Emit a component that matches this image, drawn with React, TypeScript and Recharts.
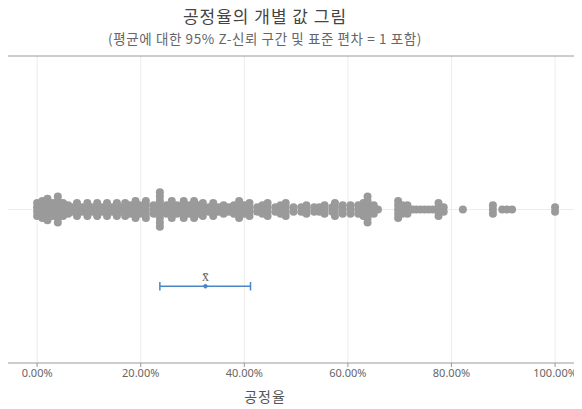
import React from "react";
import {
  ScatterChart,
  Scatter,
  XAxis,
  YAxis,
  CartesianGrid,
  ReferenceLine,
  ReferenceDot,
} from "recharts";

// Individual values (percent) and how many observations sit at each value
const dotValues = [
  0, 1, 2, 3, 4, 5, 6, 7, 7.7, 8.7, 9.7, 10.6, 11.6, 12.5, 13.5, 14.5, 15.4, 16.2, 17, 18,
  19, 19.8, 21, 22.5, 23.7, 25, 26, 27, 28.3, 29.3, 30.3, 31.3, 32, 33.2, 34, 35, 36, 37,
  38, 39, 40, 41, 42.5, 43.5, 44.5, 46, 47, 48, 49.5, 51, 52, 53.5, 54.5, 55.5, 57, 57.5, 59,
  60.5, 62, 63, 63.8, 65, 65.8, 69.7, 70.5, 71.5, 72.5, 73.2, 74, 74.8, 75.6, 76.4, 77.5,
  78.5, 82.2, 88, 89.8, 90.7, 91.7, 100,
];
const dotCounts = [
  4, 5, 6, 4, 7, 4, 3, 2, 4, 2, 4, 2, 4, 2, 4, 2, 4, 2, 4, 3,
  5, 3, 5, 3, 9, 3, 5, 3, 5, 3, 5, 3, 4, 2, 4, 2, 3, 2,
  3, 5, 3, 4, 2, 3, 4, 2, 3, 4, 2, 2, 3, 2, 2, 3, 2, 4, 3,
  3, 3, 4, 7, 3, 1, 5, 3, 3, 1, 1, 1, 1, 1, 1, 4,
  2, 1, 3, 1, 1, 1, 2,
];

const meanValue = 32.5;
const ciLow = 23.7;
const ciHigh = 41.2;

const xTicks = [0, 20, 40, 60, 80, 100];

const title = "공정율의 개별 값 그림";
const subtitle = "(평균에 대한 95% Z-신뢰 구간 및 표준 편차 = 1 포함)";
const xLabel = "공정율";

const ROW_Y = 2;
const CI_Y = 1;
const STACK_STEP = 0.056;
const X_MIN = -6.2;
const X_MAX = 105.2;

const points: { x: number; y: number }[] = [];
dotValues.forEach((v, i) => {
  const n = dotCounts[i];
  for (let k = 0; k < n; k++) {
    points.push({ x: v, y: ROW_Y + (k - (n - 1) / 2) * STACK_STEP });
  }
});

const Dot = (props: any) => {
  const { cx, cy } = props;
  if (cx == null || cy == null) return null;
  return <circle cx={cx} cy={cy} r={4} fill="#9a9a9a" />;
};

const korFont = "'Noto Sans CJK KR', 'Noto Sans', sans-serif";

export default function App() {
  return (
    <div style={{ position: "relative", marginLeft: -8, marginTop: -8, width: 582, height: 409 }}>
      <ScatterChart
        width={582}
        height={409}
        margin={{ top: 56, right: 0, bottom: 0, left: 5 }}
      >
        <CartesianGrid horizontal={false} vertical stroke="#ececec" />
        <XAxis
          type="number"
          dataKey="x"
          domain={[X_MIN, X_MAX]}
          ticks={xTicks}
          allowDataOverflow
          height={46}
          tickSize={4}
          tickLine={{ stroke: "#999" }}
          axisLine={false}
          tick={{ fontSize: 11, fill: "#666", fontFamily: "'Noto Sans', sans-serif" }}
          tickFormatter={(v: number) => v.toFixed(2) + "%"}
        />
        <YAxis type="number" dataKey="y" domain={[0, 4]} hide />
        <ReferenceLine y={ROW_Y} stroke="#ececec" />
        <ReferenceLine x={X_MIN + 0.15} stroke="#8a8a8a" strokeWidth={1.2} ifOverflow="visible" />
        <ReferenceLine y={4} stroke="#9a9a9a" ifOverflow="visible" />
        <ReferenceLine y={0} stroke="#9a9a9a" ifOverflow="visible" />
        <Scatter data={points} shape={Dot} isAnimationActive={false} />
        <ReferenceLine
          segment={[
            { x: ciLow, y: CI_Y },
            { x: ciHigh, y: CI_Y },
          ]}
          stroke="#4a86c5"
          strokeWidth={1.5}
        />
        <ReferenceLine
          segment={[
            { x: ciLow, y: CI_Y - 0.055 },
            { x: ciLow, y: CI_Y + 0.055 },
          ]}
          stroke="#4a86c5"
          strokeWidth={1.5}
        />
        <ReferenceLine
          segment={[
            { x: ciHigh, y: CI_Y - 0.055 },
            { x: ciHigh, y: CI_Y + 0.055 },
          ]}
          stroke="#4a86c5"
          strokeWidth={1.5}
        />
        <ReferenceDot
          x={meanValue}
          y={CI_Y}
          r={1.8}
          fill="#4a86c5"
          stroke="#4a86c5"
          label={{ value: "x̄", position: "top", fill: "#666", fontSize: 14, offset: 3 }}
        />
      </ScatterChart>
      <div
        style={{
          position: "absolute",
          left: 5,
          top: 56,
          width: 1,
          height: 307,
          background: "#8a8a8a",
          pointerEvents: "none",
        }}
      />
      <div
        style={{
          position: "absolute",
          left: 0,
          width: 530,
          top: 5,
          textAlign: "center",
          fontFamily: korFont,
          fontSize: 17,
          letterSpacing: 1,
          color: "#444",
          lineHeight: "22px",
        }}
      >
        {title}
      </div>
      <div
        style={{
          position: "absolute",
          left: 0,
          width: 530,
          top: 29,
          textAlign: "center",
          fontFamily: korFont,
          fontSize: 13.5,
          letterSpacing: 0.6,
          color: "#666",
          lineHeight: "18px",
        }}
      >
        {subtitle}
      </div>
      <div
        style={{
          position: "absolute",
          left: 0,
          width: 530,
          top: 387,
          textAlign: "center",
          fontFamily: korFont,
          fontSize: 14,
          letterSpacing: 1,
          color: "#555",
          lineHeight: "18px",
        }}
      >
        {xLabel}
      </div>
    </div>
  );
}
